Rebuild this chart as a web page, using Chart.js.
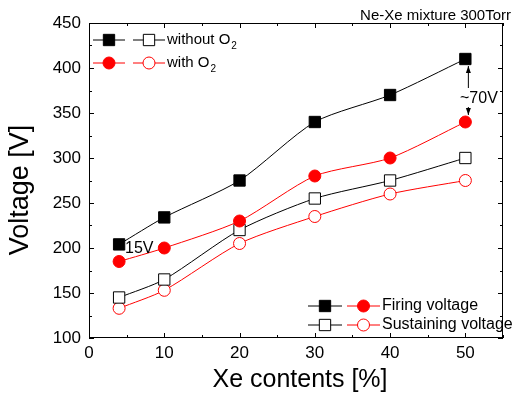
<!DOCTYPE html>
<html>
<head>
<meta charset="utf-8">
<script src="https://cdn.jsdelivr.net/npm/chart.js@4.4.0/dist/chart.umd.min.js"></script>
<style>
  html, body { margin: 0; padding: 0; background: #fff; }
  #wrap { width: 512px; height: 393px; }
</style>
</head>
<body>
<div id="wrap"><canvas id="chart" width="512" height="393"></canvas></div>
<script>
// Xe content (%) on the x axis
const xeContents = [4, 10, 20, 30, 40, 50];
// voltages
const firingNoO2 = [204, 234, 275, 340, 370, 410];
const firingO2 = [185, 200, 230, 280, 300, 340];
const sustainNoO2 = [145, 165, 220, 255, 275, 300];
const sustainO2 = [133, 153, 205, 235, 260, 275];
const xTicks = [0, 10, 20, 30, 40, 50];
const yTicks = [100, 150, 200, 250, 300, 350, 400, 450];

const FONT = "'Liberation Sans', Arial, sans-serif";
const RED = '#ff0000';

function points(ys) {
    return xeContents.map((x, i) => ({ x: x, y: ys[i] }));
}

function series(label, ys, color, style, filled) {
    return {
        label: label,
        data: points(ys),
        borderColor: color,
        borderWidth: 1,
        tension: 0.25,
        pointStyle: style,
        pointRadius: style === 'rect' ? 8 : 6,
        pointBorderWidth: 1,
        pointBorderColor: color,
        pointBackgroundColor: filled ? color : '#fff'
    };
}

// legend sample: a short line with the marker in the middle
function markerSample(ctx, x1, x2, y, color, style, filled) {
    ctx.save();
    ctx.fillStyle = filled ? color : '#fff';
    ctx.strokeStyle = color;
    ctx.lineWidth = 1;
    ctx.beginPath();
    ctx.moveTo(x1, y);
    ctx.lineTo(x2, y);
    ctx.stroke();
    Chart.helpers.drawPoint(ctx, {
        pointStyle: style,
        radius: style === 'rect' ? 8 : 6,
        borderWidth: 1
    }, (x1 + x2) / 2, y);
    ctx.restore();
}

function arrow(ctx, x, yFrom, yTo) {
    const dir = yTo > yFrom ? 1 : -1;
    ctx.beginPath();
    ctx.moveTo(x, yFrom);
    ctx.lineTo(x, yTo);
    ctx.stroke();
    ctx.beginPath();
    ctx.moveTo(x, yTo);
    ctx.lineTo(x - 2.5, yTo - dir * 7);
    ctx.lineTo(x + 2.5, yTo - dir * 7);
    ctx.closePath();
    ctx.fill();
}

const decorations = {
    id: 'decorations',
    afterDraw(chart) {
        const ctx = chart.ctx;
        const a = chart.chartArea;
        const xs = chart.scales.x;
        const ys = chart.scales.y;
        ctx.save();

        // frame
        ctx.strokeStyle = '#000';
        ctx.lineWidth = 1;
        ctx.strokeRect(a.left + 0.5, a.top + 0.5, a.right - a.left - 1, a.bottom - a.top - 1);

        // inward ticks on all four sides
        ctx.beginPath();
        for (let v = 0; v <= 55; v += 5) {
            const px = Math.round(xs.getPixelForValue(v)) + 0.5;
            const len = v % 10 === 0 ? 5 : 3;
            ctx.moveTo(px, a.bottom);
            ctx.lineTo(px, a.bottom - len);
            ctx.moveTo(px, a.top);
            ctx.lineTo(px, a.top + len);
        }
        for (let v = 100; v <= 450; v += 25) {
            const py = Math.round(ys.getPixelForValue(v)) + 0.5;
            const len = v % 50 === 0 ? 5 : 3;
            ctx.moveTo(a.left, py);
            ctx.lineTo(a.left + len, py);
            ctx.moveTo(a.right, py);
            ctx.lineTo(a.right - len, py);
        }
        ctx.stroke();

        // axis titles
        ctx.fillStyle = '#000';
        ctx.textAlign = 'center';
        ctx.textBaseline = 'middle';
        ctx.font = '25px ' + FONT;
        ctx.fillText('Xe contents [%]', 300, 380);
        ctx.save();
        ctx.translate(21, 190);
        ctx.rotate(-Math.PI / 2);
        ctx.font = '27px ' + FONT;
        ctx.fillText('Voltage [V]', 0, 0);
        ctx.restore();

        // header note
        ctx.font = '15px ' + FONT;
        ctx.textAlign = 'right';
        ctx.textBaseline = 'alphabetic';
        ctx.fillText('Ne-Xe mixture 300Torr', 511, 20);

        // annotations
        ctx.font = '16px ' + FONT;
        ctx.textAlign = 'left';
        ctx.textBaseline = 'middle';
        ctx.fillText('15V', 125, 249);
        ctx.fillText('~70V', 460, 99);
        const ax = xs.getPixelForValue(50) + 3;
        arrow(ctx, ax, 88, ys.getPixelForValue(firingNoO2[5]) + 7);
        arrow(ctx, ax, 107, ys.getPixelForValue(firingO2[5]) - 7);

        // top-left legend (gas)
        markerSample(ctx, 93, 125, 40, '#000', 'rect', true);
        markerSample(ctx, 133, 165, 40, '#000', 'rect', false);
        markerSample(ctx, 93, 125, 63, RED, 'circle', true);
        markerSample(ctx, 133, 165, 63, RED, 'circle', false);
        ctx.fillStyle = '#000';
        ctx.font = '15px ' + FONT;
        ctx.fillText('without O', 167, 40);
        ctx.fillText('with O', 167, 63);
        const w1 = ctx.measureText('without O').width;
        const w2 = ctx.measureText('with O').width;
        ctx.font = '10px ' + FONT;
        ctx.fillText('2', 167 + w1 + 1, 46);
        ctx.fillText('2', 167 + w2 + 1, 69);

        // bottom-right legend (voltage type)
        markerSample(ctx, 308, 342, 306, '#000', 'rect', true);
        markerSample(ctx, 347, 380, 306, RED, 'circle', true);
        markerSample(ctx, 308, 342, 325, '#000', 'rect', false);
        markerSample(ctx, 347, 380, 325, RED, 'circle', false);
        ctx.fillStyle = '#000';
        ctx.font = '16px ' + FONT;
        ctx.fillText('Firing voltage', 382, 306);
        ctx.fillText('Sustaining voltage', 382, 325);

        ctx.restore();
    }
};

new Chart(document.getElementById('chart'), {
    type: 'line',
    data: {
        datasets: [
            series('Firing, without O2', firingNoO2, '#000', 'rect', true),
            series('Firing, with O2', firingO2, RED, 'circle', true),
            series('Sustaining, without O2', sustainNoO2, '#000', 'rect', false),
            series('Sustaining, with O2', sustainO2, RED, 'circle', false)
        ]
    },
    options: {
        responsive: false,
        animation: false,
        layout: { padding: { top: 23, right: 1, left: 0, bottom: 0 } },
        plugins: {
            legend: { display: false },
            tooltip: { enabled: false }
        },
        scales: {
            x: {
                type: 'linear',
                min: 0,
                max: 55,
                grid: { display: false, drawTicks: false },
                border: { display: false },
                afterBuildTicks: (scale) => { scale.ticks = xTicks.map(v => ({ value: v })); },
                afterFit: (scale) => { scale.height = 55; },
                ticks: { padding: 5, color: '#000', font: { family: FONT, size: 17 }, maxRotation: 0 }
            },
            y: {
                type: 'linear',
                min: 100,
                max: 450,
                grid: { display: false, drawTicks: false },
                border: { display: false },
                afterBuildTicks: (scale) => { scale.ticks = yTicks.map(v => ({ value: v })); },
                afterFit: (scale) => { scale.width = 89; },
                ticks: { padding: 8, color: '#000', font: { family: FONT, size: 17 } }
            }
        }
    },
    plugins: [decorations]
});
</script>
</body>
</html>
